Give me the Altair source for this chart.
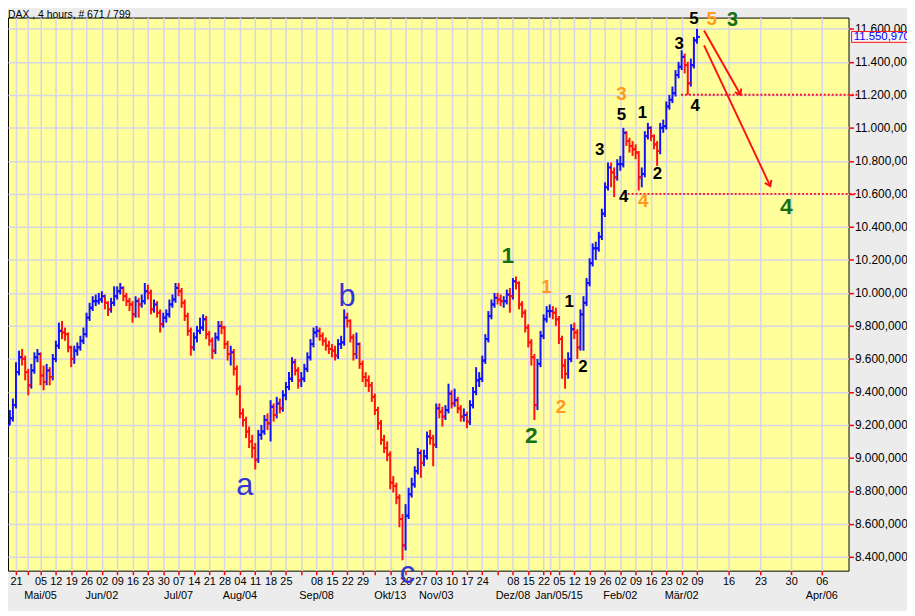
import json
import math
import altair as alt
import pandas as pd

# ---------------- data ----------------
TITLE = "DAX , 4 hours, # 671 / 799"
FIRST_INDEX = -2          # trading-day index of first bar (0 = week of 21 Apr 2014)
FIRST_OPEN = 9200

closes = [9240, 9320, 9520, 9610, 9600, 9520, 9440, 9530, 9610, 9630,
          9500, 9460, 9530, 9490, 9600, 9680, 9770, 9760, 9750, 9670,
          9600, 9650, 9670, 9710, 9750, 9850, 9910, 9950, 9950, 9960,
          9980, 9940, 9900, 9940, 9980, 10010, 10030, 9980, 9950, 9930,
          9870, 9950, 9930, 9950, 10010, 10000, 9900, 9930, 9880, 9810,
          9850, 9870, 9930, 9960, 10030, 10010, 9940, 9860, 9770, 9670,
          9730, 9770, 9790, 9840, 9750, 9710, 9650, 9730, 9800, 9790,
          9690, 9630, 9640, 9540, 9420, 9270, 9230, 9160, 9100, 9060,
          8990, 9140, 9160, 9230, 9210, 9310, 9260, 9330, 9300, 9380,
          9430, 9480, 9580, 9530, 9470, 9480, 9540, 9610, 9690, 9760,
          9770, 9740, 9710, 9680, 9660, 9650, 9620, 9690, 9700, 9850,
          9830, 9730, 9630, 9690, 9570, 9490, 9470, 9440, 9370, 9290,
          9210, 9110, 9060, 9020, 8850, 8830, 8760, 8630, 8470, 8650,
          8780, 8840, 8920, 9030, 8970, 9010, 9130, 9120, 9080, 9300,
          9280, 9250, 9290, 9390, 9330, 9350, 9300, 9250, 9260, 9220,
          9320, 9400, 9470, 9480, 9590, 9720, 9860, 9930, 9970, 9960,
          9950, 9950, 9990, 9980, 10070, 10060, 9930, 9880, 9790, 9700,
          9610, 9320, 9570, 9740, 9840, 9890, 9890, 9880, 9840, 9720,
          9560, 9510, 9600, 9780, 9760, 9670, 9870, 9940, 10060, 10180,
          10270, 10270, 10340, 10480, 10640, 10760, 10730, 10700, 10780, 10780,
          10970, 10920, 10890, 10870, 10850, 10700, 10720, 10950, 11000, 10950,
          10900, 10860, 11000, 11010, 11130, 11170, 11210, 11320, 11370, 11430,
          11380, 11270, 11380, 11530, 11550.97]

highs = [9290, 9360, 9580, 9650, 9660, 9620, 9540, 9570, 9640, 9660,
         9640, 9560, 9570, 9550, 9630, 9710, 9820, 9830, 9790, 9760,
         9680, 9680, 9700, 9740, 9790, 9880, 9940, 9980, 9990, 10000,
         10010, 9990, 9950, 9970, 10040, 10040, 10060, 10040, 10000, 9970,
         9950, 9980, 9970, 9990, 10060, 10050, 10020, 9960, 9950, 9900,
         9880, 9900, 9960, 9990, 10060, 10060, 10030, 9960, 9880, 9790,
         9760, 9800, 9850, 9870, 9860, 9770, 9730, 9760, 9830, 9830,
         9800, 9710, 9680, 9660, 9560, 9440, 9300, 9250, 9190, 9140,
         9090, 9170, 9200, 9260, 9270, 9350, 9330, 9370, 9360, 9410,
         9460, 9520, 9610, 9600, 9550, 9520, 9570, 9640, 9720, 9790,
         9800, 9790, 9760, 9730, 9710, 9690, 9680, 9720, 9740, 9900,
         9880, 9840, 9750, 9760, 9700, 9590, 9520, 9500, 9460, 9390,
         9310, 9230, 9140, 9100, 9040, 8890, 8850, 8780, 8660, 8720,
         8820, 8880, 8950, 9060, 9050, 9050, 9160, 9170, 9140, 9330,
         9330, 9310, 9320, 9450, 9410, 9420, 9370, 9320, 9300, 9280,
         9350, 9430, 9550, 9520, 9620, 9750, 9890, 9960, 10000, 10000,
         9990, 9980, 10020, 10030, 10090, 10100, 10070, 9950, 9900, 9810,
         9720, 9630, 9600, 9770, 9870, 9920, 9930, 9920, 9910, 9860,
         9740, 9600, 9640, 9810, 9820, 9780, 9900, 9980, 10090, 10210,
         10300, 10310, 10370, 10510, 10670, 10790, 10790, 10760, 10810, 10830,
         11000, 10980, 10940, 10920, 10900, 10860, 10760, 10980, 11030, 11010,
         10960, 10920, 11030, 11050, 11160, 11200, 11250, 11350, 11400, 11470,
         11450, 11400, 11420, 11550, 11600]

lows = [9200, 9220, 9300, 9500, 9560, 9470, 9380, 9420, 9510, 9580,
        9440, 9410, 9440, 9440, 9470, 9580, 9660, 9720, 9710, 9640,
        9550, 9570, 9620, 9650, 9690, 9730, 9830, 9890, 9920, 9930,
        9940, 9900, 9860, 9880, 9920, 9960, 9990, 9950, 9920, 9890,
        9820, 9850, 9850, 9910, 9930, 9960, 9870, 9880, 9850, 9760,
        9790, 9820, 9850, 9910, 9940, 9980, 9910, 9830, 9740, 9620,
        9650, 9700, 9750, 9770, 9720, 9680, 9600, 9630, 9710, 9750,
        9660, 9590, 9560, 9500, 9380, 9240, 9190, 9120, 9060, 9000,
        8930, 8970, 9110, 9140, 9170, 9100, 9220, 9240, 9270, 9280,
        9350, 9410, 9460, 9500, 9420, 9430, 9460, 9520, 9590, 9670,
        9730, 9710, 9680, 9650, 9630, 9610, 9590, 9600, 9660, 9680,
        9790, 9700, 9590, 9600, 9540, 9460, 9430, 9400, 9340, 9260,
        9170, 9080, 9030, 8980, 8810, 8790, 8720, 8580, 8380, 8440,
        8630, 8760, 8820, 8900, 8880, 8950, 8990, 9080, 8950, 9060,
        9240, 9190, 9230, 9270, 9300, 9310, 9270, 9220, 9220, 9180,
        9200, 9300, 9380, 9430, 9460, 9570, 9700, 9840, 9910, 9930,
        9920, 9910, 9930, 9880, 9960, 10020, 9900, 9850, 9760, 9670,
        9560, 9230, 9290, 9550, 9720, 9820, 9850, 9840, 9800, 9690,
        9480, 9420, 9480, 9580, 9720, 9600, 9650, 9650, 9920, 10040,
        10160, 10200, 10250, 10320, 10460, 10620, 10640, 10580, 10680, 10740,
        10760, 10890, 10850, 10830, 10810, 10620, 10640, 10700, 10930, 10920,
        10870, 10770, 10840, 10970, 10990, 11110, 11150, 11190, 11300, 11350,
        11330, 11200, 11250, 11360, 11510]

# weekly ticks (trading-day index) and their day labels
week_index = [0, 4, 8, 13, 18, 23, 28, 33, 38, 43, 48, 53, 58, 63, 68, 73, 78, 83, 88,
              93, 98, 103, 108, 113, 117, 122, 127, 132, 137, 142, 147, 152, 157,
              162, 167, 172, 174, 177, 182, 187, 192, 197, 202, 207, 212, 217, 222,
              232.3, 242.7, 252.7, 262.7]
week_label = ["21", "", "05", "12", "19", "26", "02", "09", "16", "23", "30", "07", "14",
              "21", "28", "04", "11", "18", "25", "", "08", "15", "22", "29", "", "13",
              "20", "27", "03", "10", "17", "24", "", "08", "15", "22", "", "05", "12",
              "19", "26", "02", "09", "16", "23", "02", "09", "16", "23", "30", "06"]
month_index = [8, 28, 53, 73, 98, 122, 137, 162, 177, 197, 217, 262.7]
month_label = ["Mai/05", "Jun/02", "Jul/07", "Aug/04", "Sep/08", "Okt/13", "Nov/03",
               "Dez/08", "Jan/05/15", "Feb/02", "Mär/02", "Apr/06"]
price_ticks = list(range(8400, 11601, 200))

# Elliott-wave annotations
wave_text = ["a", "b", "c",
             "1", "2", "3", "4",
             "1", "2", "3", "4", "5",
             "1", "2", "3", "4", "5", "1", "2", "3", "4", "5"]
wave_group = ["abc"] * 3 + ["green"] * 4 + ["orange"] * 5 + ["black"] * 10
wave_x = [74.6, 107.9, 127.6,
          160.3, 168.0, 233.6, 251.1,
          172.9, 177.7, 197.4, 204.5, 226.8,
          180.3, 184.8, 190.3, 198.1, 197.4, 204.2, 209.1, 216.2, 221.4, 221.0]
wave_y = [8773, 9920, 8245,
          10184, 9091, 11620, 10479,
          9998, 9272, 11170, 10521, 11626,
          9914, 9518, 10833, 10551, 11049, 11061, 10689, 11476, 11103, 11632]
wave_size = [31, 31, 31,
             23, 23, 20, 23,
             19, 19, 19, 19, 19,
             17, 17, 17, 17, 17, 17, 17, 17, 17, 17]

# projection arrows and target levels
arrow_x1 = [224.3, 224.3]
arrow_y1 = [11590, 11500]
arrow_x2 = [236.2, 245.9]
arrow_y2 = [11200, 10647]
level_price = [11200, 10600]
level_x1 = [216.8, 199.4]
level_x2 = [274.7, 274.7]

# ---------------- layout / style ----------------
XDOM = [-2.6, 271.4]
YDOM = [8317, 11668]
W, H = 848, 558
BLUE = "#1212ff"
RED = "#ff1212"
GRID = "#d6d6e6"
FONT = "Liberation Sans"

idx = list(range(FIRST_INDEX, FIRST_INDEX + len(closes)))
opens = [FIRST_OPEN] + closes[:-1]
df = pd.DataFrame({"x": idx, "open": opens, "high": highs, "low": lows, "close": closes})
df["dir"] = ["up" if c >= o else "down" for o, c in zip(opens, closes)]

xscale = alt.Scale(domain=XDOM, nice=False, zero=False)
yscale = alt.Scale(domain=YDOM, nice=False, zero=False)

x_label_expr = f"{json.dumps(week_label)}[indexof({json.dumps(week_index)}, datum.value)]"
y_label_expr = ("replace(replace(replace(format(datum.value, ',.3f'), ',', '#'), '.', ','), '#', '.')")

xaxis = alt.Axis(values=week_index, tickCount=500, labelExpr=x_label_expr, grid=True,
                 gridColor=GRID, gridWidth=1.5, domain=False, tickColor="#ff0000", tickSize=4,
                 tickWidth=1.5, labelColor="#000000", labelFont=FONT, labelFontSize=11,
                 labelPadding=1, labelOverlap=False, labelFlush=False, title=None)
yaxis = alt.Axis(orient="right", values=price_ticks, tickCount=500, labelExpr=y_label_expr,
                 grid=True, gridColor=GRID, gridWidth=1.5, domain=False, tickColor="#ff0000",
                 tickSize=5, tickWidth=1.5, labelColor="#000000", labelFont=FONT,
                 labelFontSize=12, labelPadding=1, labelOverlap=False, labelFlush=False,
                 labelBaseline="middle", title=None)

color = alt.Color("dir:N", scale=alt.Scale(domain=["up", "down"], range=[BLUE, RED]),
                  legend=None)

base = alt.Chart(df)
hl = base.mark_rule(strokeWidth=2).encode(
    x=alt.X("x:Q", scale=xscale, axis=xaxis),
    y=alt.Y("low:Q", scale=yscale, axis=yaxis),
    y2="high:Q",
    color=color,
)
op = base.mark_tick(orient="horizontal", size=3, thickness=2, xOffset=-1.5, opacity=1).encode(
    x=alt.X("x:Q", title=None), y=alt.Y("open:Q", title=None), color=color)
cl = base.mark_tick(orient="horizontal", size=3, thickness=2, xOffset=1.5, opacity=1).encode(
    x=alt.X("x:Q", title=None), y=alt.Y("close:Q", title=None), color=color)

levels = pd.DataFrame({"x1": level_x1, "x2": level_x2, "p": level_price})
lev = alt.Chart(levels).mark_rule(color=RED, strokeWidth=2, strokeDash=[2, 2]).encode(
    x=alt.X("x1:Q", title=None), x2="x2:Q", y=alt.Y("p:Q", title=None))

sx = W / (XDOM[1] - XDOM[0])
sy = H / (YDOM[1] - YDOM[0])
angles = []
for a, b, c, d in zip(arrow_x1, arrow_y1, arrow_x2, arrow_y2):
    dx = (c - a) * sx
    dy = (b - d) * sy
    angles.append(math.degrees(math.atan2(dx, -dy)) % 360)
arrows = pd.DataFrame({"x1": arrow_x1, "y1": arrow_y1, "x2": arrow_x2, "y2": arrow_y2,
                       "ang": angles})
arr = alt.Chart(arrows).mark_rule(color=RED, strokeWidth=2).encode(
    x=alt.X("x1:Q", title=None), y=alt.Y("y1:Q", title=None), x2="x2:Q", y2="y2:Q")
heads = alt.Chart(arrows).mark_point(shape="M -0.7 1 L 0 0 L 0.7 1", filled=False,
                                     color=RED, strokeWidth=2, size=110, opacity=1).encode(
    x=alt.X("x2:Q", title=None), y=alt.Y("y2:Q", title=None),
    angle=alt.Angle("ang:Q", scale=None))

wave = pd.DataFrame({"x": wave_x, "y": wave_y, "t": wave_text, "g": wave_group,
                     "fs": wave_size})


def wave_layer(group, col, weight):
    return alt.Chart(wave).transform_filter(alt.datum.g == group).mark_text(
        align="center", baseline="alphabetic", fontWeight=weight, font=FONT, color=col
    ).encode(x=alt.X("x:Q", title=None), y=alt.Y("y:Q", title=None), text="t:N",
             size=alt.Size("fs:Q", scale=None))


w_abc = wave_layer("abc", "#3434d2", "normal")
w_green = wave_layer("green", "#16701a", "bold")
w_orange = wave_layer("orange", "#ff9a1a", "bold")
w_black = wave_layer("black", "#000000", "bold")

months = pd.DataFrame({"x": month_index, "t": month_label})
mon = alt.Chart(months).mark_text(align="center", baseline="middle", fontSize=11, font=FONT,
                                  color="#000000").encode(
    x=alt.X("x:Q", title=None), y=alt.value(H + 26), text="t:N")

title = alt.Chart(pd.DataFrame({"t": [TITLE]})).mark_text(
    align="left", baseline="alphabetic", fontSize=10.5, font=FONT, color="#000000").encode(
    x=alt.value(0), y=alt.value(0.8), text="t:N")

last = closes[-1]
last_label = f"{last:,.3f}".replace(",", "#").replace(".", ",").replace("#", ".")
tag = pd.DataFrame({"x1": [272.4], "x2": [292.0], "y1": [last - 33], "y2": [last + 33],
                    "xt": [273.1], "p": [last], "t": [last_label]})
tag_box = alt.Chart(tag).mark_rect(fill="#f2f2f2", fillOpacity=1, stroke=RED,
                                   strokeWidth=1).encode(
    x=alt.X("x1:Q", title=None), x2="x2:Q", y=alt.Y("y1:Q", title=None), y2="y2:Q")
tag_txt = alt.Chart(tag).mark_text(align="left", baseline="middle", fontSize=11.5, font=FONT,
                                   color="#0000ff").encode(
    x=alt.X("xt:Q", title=None), y=alt.Y("p:Q", title=None), text="t:N")

chart = alt.layer(
    hl, op, cl, lev, arr, heads, w_abc, w_green, w_orange, w_black, mon, title,
    tag_box, tag_txt
).properties(
    width=W, height=H,
    padding={"left": 0, "top": 7, "right": 59, "bottom": 38},
    autosize=alt.AutoSizeParams(type="none"),
    background="#ececec",
).configure_view(fill="#ffff9c", stroke="#000000", strokeWidth=1)

chart.save("out.html", embed_options={"renderer": "svg", "actions": False})
